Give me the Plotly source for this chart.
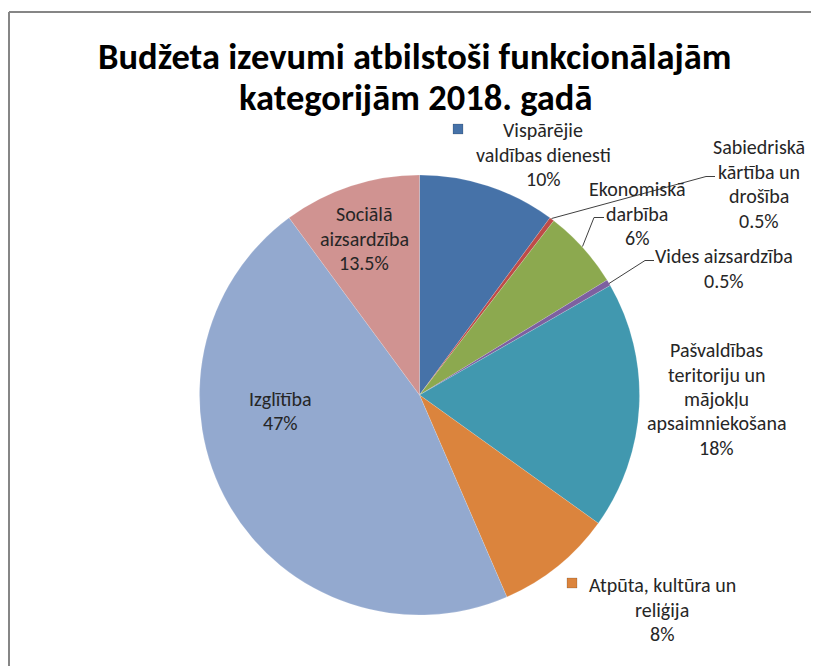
import plotly.graph_objects as go

W, H = 819, 666
OFF = 8  # page body margin

categories = [
    "Vispārējie valdības dienesti",
    "Sabiedriskā kārtība un drošība",
    "Ekonomiskā darbība",
    "Vides aizsardzība",
    "Pašvaldības teritoriju un mājokļu apsaimniekošana",
    "Atpūta, kultūra un reliģija",
    "Izglītība",
    "Sociālā aizsardzība",
]
# slice sizes as drawn (share of the circle, %)
values = [10.1, 0.35, 5.8, 0.45, 18.2, 8.6, 46.4, 10.1]
# percentages as printed on the data labels
label_pct = ["10%", "0.5%", "6%", "0.5%", "18%", "8%", "47%", "13.5%"]
# label text broken into lines as in the picture
label_lines = [
    ["Vispārējie", "valdības dienesti"],
    ["Sabiedriskā", "kārtība un", "drošība"],
    ["Ekonomiskā", "darbība"],
    ["Vides aizsardzība"],
    ["Pašvaldības", "teritoriju un", "mājokļu", "apsaimniekošana"],
    ["Atpūta, kultūra un", "reliģija"],
    ["Izglītība"],
    ["Sociālā", "aizsardzība"],
]
colors = ["#4672A8", "#BE4B48", "#8CA94F", "#7D60A0", "#4198AF", "#DB843D", "#93A9CF", "#D09391"]
title_lines = ["Budžeta izevumi atbilstoši funkcionālajām", "kategorijām 2018. gadā"]

# layout positions (page pixels)
cx, cy, R = 419.5, 395, 220
label_pos = [(543, 130), (759, 147), (637, 189), (724, 256), (716, 350), (662, 585), (280, 399), (364, 214)]
line_gap = 24.5
key_boxes = {0: (458, 129), 5: (572, 583)}
leaders = {
    1: [(551.5, 218.5), (706, 176.5), (715, 176.5)],
    2: [(582.5, 246.5), (594, 217.5), (604, 217.5)],
    3: [(609, 283.5), (645, 260.5), (654, 260.5)],
}

def px(x):
    return (x - OFF) / W

def py(y):
    return 1 - (y - OFF) / H

font_txt = "Carlito, Calibri, Lato, sans-serif"

fig = go.Figure(go.Pie(
    labels=categories,
    values=values,
    sort=False,
    direction="clockwise",
    rotation=0,
    textinfo="none",
    hoverinfo="label+percent",
    marker=dict(colors=colors, line=dict(color="rgba(255,255,255,0.3)", width=0.5)),
    domain=dict(x=[px(cx - R), px(cx + R)], y=[py(cy + R), py(cy - R)]),
    showlegend=False,
))

annotations = []
for i, (lines, pct) in enumerate(zip(label_lines, label_pct)):
    x0, y0 = label_pos[i]
    for k, t in enumerate(lines + [pct]):
        annotations.append(dict(
            x=px(x0), y=py(y0 + k * line_gap), xref="paper", yref="paper",
            text=t, showarrow=False, xanchor="center", yanchor="middle",
            font=dict(family=font_txt, size=20, color="#262626"),
        ))

for k, t in enumerate(title_lines):
    annotations.append(dict(
        x=px(415), y=py(57 + k * 40), xref="paper", yref="paper",
        text="<b>" + t + "</b>", showarrow=False, xanchor="center", yanchor="middle",
        font=dict(family=font_txt, size=36.5, color="#000000"),
    ))

shapes = []
# chart frame (top and left edges visible)
shapes.append(dict(type="line", xref="paper", yref="paper",
                   x0=px(9), x1=px(900), y0=py(12), y1=py(12),
                   line=dict(color="#868686", width=2)))
shapes.append(dict(type="line", xref="paper", yref="paper",
                   x0=px(9), x1=px(9), y0=py(12), y1=py(800),
                   line=dict(color="#868686", width=2)))
for i, (kx, ky) in key_boxes.items():
    s = 5
    shapes.append(dict(type="rect", xref="paper", yref="paper",
                       x0=px(kx - s), x1=px(kx + s), y0=py(ky + s), y1=py(ky - s),
                       line=dict(color="rgba(0,0,0,0.25)", width=0.6), fillcolor=colors[i]))
for i, pts in leaders.items():
    path = "M " + " L ".join(f"{px(x)},{py(y)}" for x, y in pts)
    shapes.append(dict(type="path", xref="paper", yref="paper", path=path,
                       line=dict(color="#404040", width=1)))

fig.update_layout(
    width=W, height=H,
    margin=dict(l=0, r=0, t=0, b=0),
    paper_bgcolor="white",
    plot_bgcolor="white",
    annotations=annotations,
    shapes=shapes,
)

fig.write_html("out.html")
